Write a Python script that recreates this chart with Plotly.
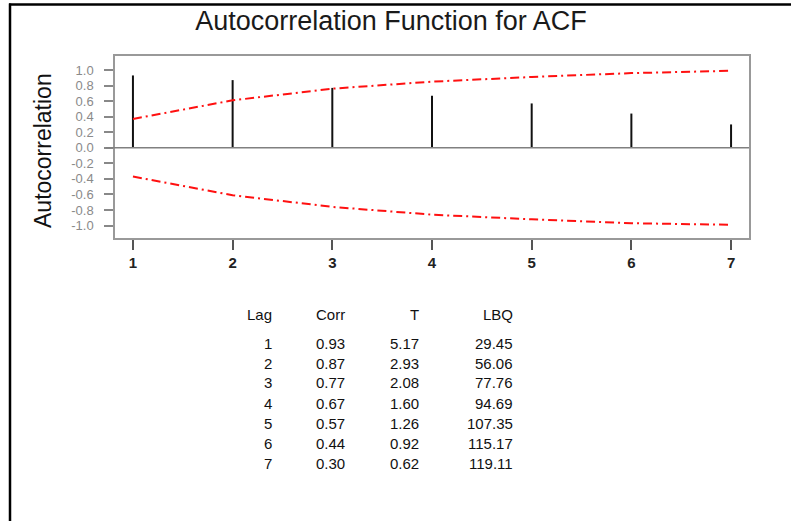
import plotly.graph_objects as go

# ---- data ----
lags = [1, 2, 3, 4, 5, 6, 7]
corr = [0.93, 0.87, 0.77, 0.67, 0.57, 0.44, 0.30]
t_stat = [5.17, 2.93, 2.08, 1.60, 1.26, 0.92, 0.62]
lbq = [29.45, 56.06, 77.76, 94.69, 107.35, 115.17, 119.11]
upper_limit = [0.37, 0.61, 0.76, 0.85, 0.91, 0.96, 0.99]
lower_limit = [-0.37, -0.61, -0.76, -0.86, -0.92, -0.97, -0.99]
y_ticks = [-1.0, -0.8, -0.6, -0.4, -0.2, 0.0, 0.2, 0.4, 0.6, 0.8, 1.0]
table_headers = ["Lag", "Corr", "T", "LBQ"]

W, H = 791, 521
L, R, T, B = 115, 749, 56, 238  # plot area pixel box


def px_x(px):
    return (px - L) / (R - L)


def px_y(py):
    return (B - py) / (B - T)


FONT = "Liberation Sans, Arial, sans-serif"

fig = go.Figure()

# correlation spikes
xs, ys = [], []
for lag, c in zip(lags, corr):
    xs += [lag, lag, None]
    ys += [0, c, None]
fig.add_trace(go.Scatter(x=xs, y=ys, mode="lines",
                         line=dict(color="#111111", width=2),
                         showlegend=False, hoverinfo="skip"))

# significance limits
for lim in (upper_limit, lower_limit):
    fig.add_trace(go.Scatter(x=lags, y=lim, mode="lines",
                             line=dict(color="#ff1010", width=2,
                                       dash="9px,4px,2px,4px"),
                             showlegend=False))

shapes = [
    # zero line (extends into tick area)
    dict(type="line", xref="paper", yref="y", x0=px_x(106), x1=1, y0=0, y1=0,
         line=dict(color="#808080", width=1.5)),
    # outer border (left + top)
    dict(type="line", xref="paper", yref="paper", x0=px_x(10), x1=px_x(10),
         y0=px_y(3.5), y1=px_y(H + 2), line=dict(color="black", width=2.5)),
    dict(type="line", xref="paper", yref="paper", x0=px_x(9), x1=px_x(W + 2),
         y0=px_y(4.5), y1=px_y(4.5), line=dict(color="black", width=2.5)),
]

annotations = [
    dict(text="Autocorrelation", textangle=-90, xref="paper", yref="paper",
         x=px_x(43), y=px_y(151), xanchor="center", yanchor="middle",
         showarrow=False, font=dict(family=FONT, size=23, color="#111111")),
]

# table
col_right = [274, 347, 421, 515]
for hdr, cx in zip(table_headers, col_right):
    annotations.append(dict(text=hdr, xref="paper", yref="paper",
                            x=px_x(cx), y=px_y(314), xanchor="right",
                            yanchor="middle", showarrow=False,
                            font=dict(family=FONT, size=15, color="#111111")))
for i, (lag, c, tv, q) in enumerate(zip(lags, corr, t_stat, lbq)):
    row = [str(lag), f"{c:.2f}", f"{tv:.2f}", f"{q:.2f}"]
    for val, cx in zip(row, col_right):
        annotations.append(dict(text=val, xref="paper", yref="paper",
                                x=px_x(cx), y=px_y(343 + 20 * i),
                                xanchor="right", yanchor="middle",
                                showarrow=False,
                                font=dict(family=FONT, size=15, color="#111111")))

fig.update_layout(
    width=W, height=H, autosize=False,
    margin=dict(l=L, r=W - R, t=T, b=H - B, pad=0),
    paper_bgcolor="white", plot_bgcolor="white",
    title=dict(text="Autocorrelation Function for ACF", x=391 / W, xref="container",
               xanchor="center", y=1 - 21 / H, yref="container", yanchor="middle",
               font=dict(family=FONT, size=27, color="#1a1a1a")),
    xaxis=dict(range=[0.82, 7.18], tickvals=lags,
               ticktext=[f"<b>{v}</b>" for v in lags],
               ticks="outside", ticklen=10, tickwidth=1.5, tickcolor="#555555",
               showline=True, linecolor="#999999", linewidth=1.5, mirror=True,
               showgrid=False, zeroline=False, ticklabelstandoff=0,
               tickfont=dict(family=FONT, size=15, color="#222222")),
    yaxis=dict(range=[-1.16, 1.18], tickvals=y_ticks,
               ticktext=[f"{v:.1f}" for v in y_ticks],
               ticks="outside", ticklen=9, tickwidth=1.5, tickcolor="#888888",
               showline=True, linecolor="#999999", linewidth=1.5, mirror=True,
               showgrid=False, zeroline=False, ticklabelstandoff=8,
               tickfont=dict(family=FONT, size=13, color="#8a8a8a")),
    shapes=shapes,
    annotations=annotations,
    showlegend=False,
)

fig.write_html("out.html")
